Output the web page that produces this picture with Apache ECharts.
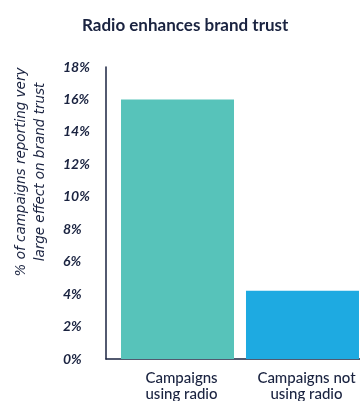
<!DOCTYPE html>
<html><head><meta charset="utf-8">
<script src="https://cdn.jsdelivr.net/npm/echarts@6/dist/echarts.min.js"></script>
<style>html,body{margin:0;padding:0;background:#fff}#c{width:360px;height:401px}</style>
</head><body><div id="c"></div>
<script>
const titleText = 'Radio enhances brand trust';
const yAxisName = '% of campaigns reporting very\nlarge effect on brand trust';
const categories = ['Campaigns\nusing radio', 'Campaigns not\nusing radio'];
const values = [16.0, 4.2];
const colors = ['#57c3ba', '#1eaae1'];
const yTicks = { min: 0, max: 18, interval: 2 };

const ink = '#1a2340';
const font = 'Lato';
const chart = echarts.init(document.getElementById('c'));
chart.setOption({
  animation: false,
  title: { text: titleText, left: 77, top: 12,
    textStyle: { fontFamily: font, fontSize: 17, fontWeight: 'bold', color: ink } },
  grid: { left: 106, right: -14, top: 67, bottom: 42, containLabel: false, outerBoundsMode: 'none' },
  xAxis: { type: 'category', data: [''],
    axisLine: { lineStyle: { color: ink, width: 1.5 } },
    axisTick: { show: false }, axisLabel: { show: false } },
  yAxis: { type: 'value', min: yTicks.min, max: yTicks.max, interval: yTicks.interval,
    name: yAxisName, nameLocation: 'middle', nameGap: 56,
    nameTextStyle: { fontFamily: 'DejaVu Sans', fontSize: 13.5, fontStyle: 'italic', color: ink, lineHeight: 19, padding: [0, 0, 0, 82] },
    axisLine: { show: true, lineStyle: { color: ink, width: 1.5 } },
    axisTick: { show: false }, splitLine: { show: false },
    axisLabel: { formatter: v => v + '%', align: 'left', margin: 43,
      fontFamily: font, fontSize: 14, fontStyle: 'italic', fontWeight: 'bold', color: ink } },
  series: categories.map((name, i) => ({
    type: 'bar', name: name, data: [values[i]], barWidth: 113, barGap: '10.6%',
    itemStyle: { color: colors[i] },
    label: { show: true, position: 'bottom', distance: 11, offset: [4, 0],
      formatter: () => name, fontFamily: font, fontSize: 15, fontWeight: 500,
      color: ink, lineHeight: 16, align: 'center' }
  }))
});
</script></body></html>
